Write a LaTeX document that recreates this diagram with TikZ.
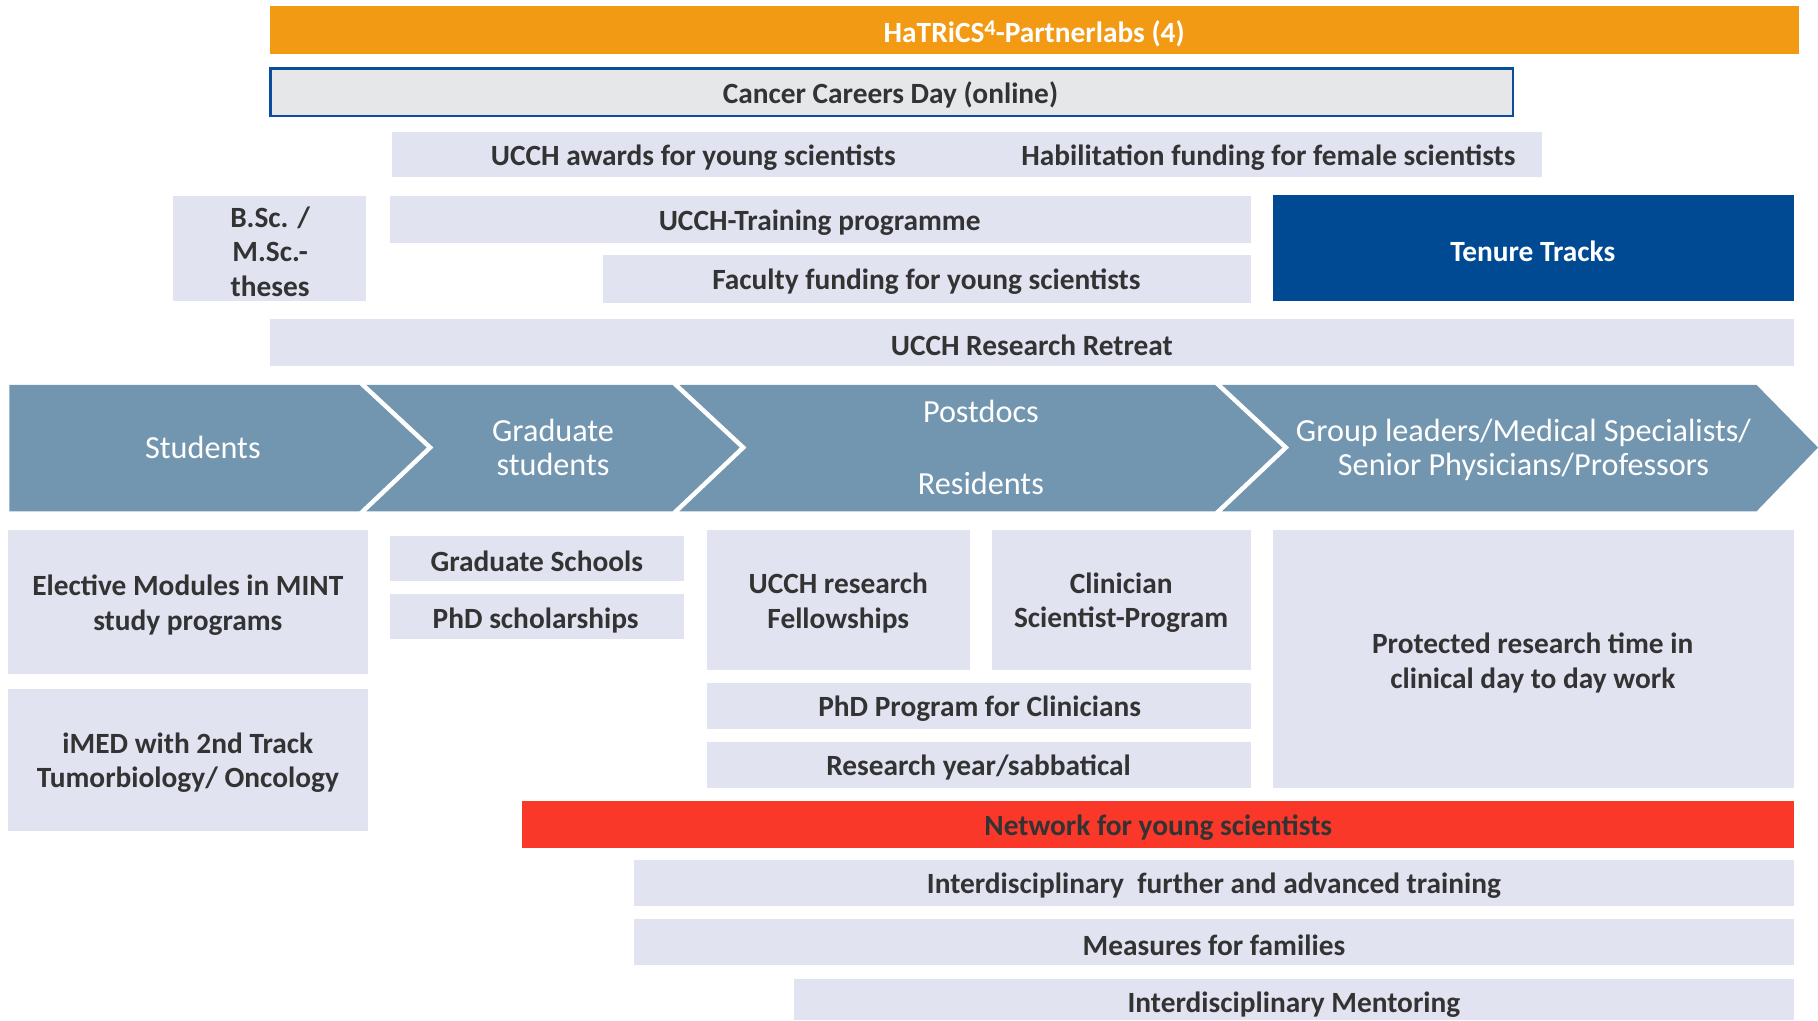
\documentclass[tikz,border=0pt]{standalone}
\usepackage{fontspec}
\setmainfont{Carlito}
\usepackage{tikz}

\definecolor{hatorange}{HTML}{F39A15}
\definecolor{careergray}{HTML}{E6E7E9}
\definecolor{careerblue}{HTML}{0B4C9C}
\definecolor{lavender}{HTML}{E1E3F1}
\definecolor{tenureblue}{HTML}{004A94}
\definecolor{stageblue}{HTML}{7296B0}
\definecolor{netred}{HTML}{F9382A}
\definecolor{darktext}{HTML}{333333}

\begin{document}
\begin{tikzpicture}[x=0.01cm,y=-0.01cm,
    lbl/.style={text=darktext,inner sep=0pt,align=center,yshift=-0.55pt,font=\bfseries\fontsize{7.2}{8.5}\selectfont},
    wlbl/.style={lbl,text=white},
    stage/.style={text=white,inner sep=0pt,align=center,font=\fontsize{7.9}{8.5}\selectfont}]
      \useasboundingbox (0,0) rectangle (1568,880);

      % bars on top
      \fill [hatorange] (233,5) rectangle (1552,47);
      \node [wlbl] (partner) at (892,27) {HaTRiCS{\fontsize{5.5}{6}\selectfont\raisebox{0.28em}{4}}-Partnerlabs (4)};

      \draw [careerblue,line width=0.7pt,fill=careergray] (233,59) rectangle (1305,100);
      \node [lbl] (careers) at (768,80) {Cancer Careers Day (online)};

      \fill [lavender] (338,114) rectangle (1330,153);
      \node [lbl] (awards) at (598,134) {UCCH awards for young scientists};
      \node [lbl] (habil) at (1094,134) {Habilitation funding for female scientists};

      \fill [lavender] (149,169) rectangle (316,260);
      \node [lbl] (theses) at (233,215) {B.Sc. /\\M.Sc.-\\theses};

      \fill [lavender] (336,169) rectangle (1079,210);
      \node [lbl] (training) at (707,190) {UCCH-Training programme};

      \fill [lavender] (520,220) rectangle (1079,261);
      \node [lbl] (faculty) at (799,241) {Faculty funding for young scientists};

      \fill [tenureblue] (1098,168) rectangle (1547,260);
      \node [wlbl] (tenure) at (1322,215) {Tenure Tracks};

      \fill [lavender] (233,275) rectangle (1547,316);
      \node [lbl] (retreat) at (890,296) {UCCH Research Retreat};

      % career stages
      \fill [stageblue] (8,332) -- (310,332) -- (368,386) -- (310,441) -- (8,441) -- cycle;
      \fill [stageblue] (316,332) -- (580,332) -- (638,386) -- (580,441) -- (316,441) -- (374,386) -- cycle;
      \fill [stageblue] (586,332) -- (1048,332) -- (1106,386) -- (1048,441) -- (586,441) -- (644,386) -- cycle;
      \fill [stageblue] (1054,332) -- (1515,332) -- (1568,386) -- (1515,441) -- (1054,441) -- (1112,386) -- cycle;
      \node [stage] (students) at (175,386) {Students};
      \node [stage] (grads) at (477,386) {Graduate\\students};
      \node [stage] (postdocs) at (846,355) {Postdocs};
      \node [stage] (residents) at (846,417) {Residents};
      \node [stage] (leaders) at (1314,388) {Group leaders/Medical Specialists/\\Senior Physicians/Professors};

      % measures below
      \fill [lavender] (7,457) rectangle (317,581);
      \node [lbl] (elective) at (162,520) {Elective Modules in MINT\\study programs};

      \fill [lavender] (7,594) rectangle (317,717);
      \node [lbl] (imed) at (162,656) {iMED with 2nd Track\\Tumorbiology/ Oncology};

      \fill [lavender] (336,462) rectangle (590,501);
      \node [lbl] (gradschools) at (463,482) {Graduate Schools};

      \fill [lavender] (336,512) rectangle (590,551);
      \node [lbl] (scholar) at (462,533) {PhD scholarships};

      \fill [lavender] (610,457) rectangle (837,578);
      \node [lbl] (fellows) at (723,518) {UCCH research\\Fellowships};

      \fill [lavender] (856,457) rectangle (1079,578);
      \node [lbl] (clinsci) at (967,518) {Clinician\\Scientist-Program};

      \fill [lavender] (1098,457) rectangle (1547,680);
      \node [lbl] (protected) at (1322,570) {Protected research time in\\clinical day to day work};

      \fill [lavender] (610,589) rectangle (1079,629);
      \node [lbl] (phdclin) at (845,609) {PhD Program for Clinicians};

      \fill [lavender] (610,640) rectangle (1079,680);
      \node [lbl] (sabbat) at (844,660) {Research year/sabbatical};

      \fill [netred] (450,691) rectangle (1547,731);
      \node [lbl] (network) at (999,712) {Network for young scientists};

      \fill [lavender] (547,742) rectangle (1547,781);
      \node [lbl] (further) at (1047,762) {Interdisciplinary\ \ further and advanced training};

      \fill [lavender] (547,793) rectangle (1547,832);
      \node [lbl] (families) at (1047,813) {Measures for families};

      \fill [lavender] (685,844) rectangle (1547,880);
      \node [lbl] (mentoring) at (1116,865) {Interdisciplinary Mentoring};

    \end{tikzpicture}
\end{document}
